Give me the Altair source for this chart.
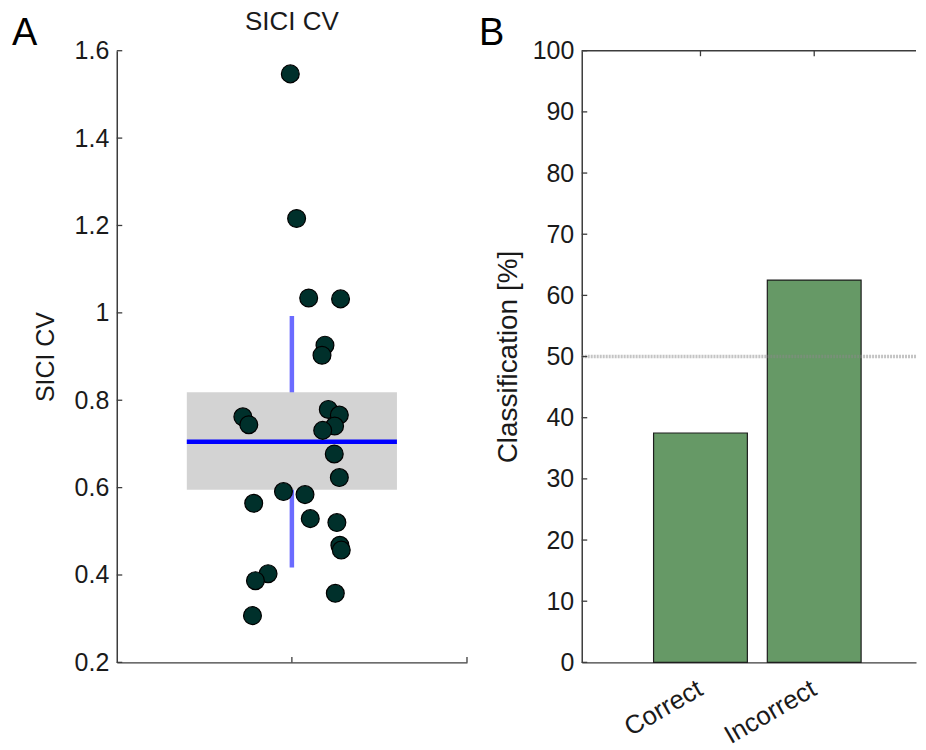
import altair as alt
import pandas as pd

# ---------------- data: panel A (SICI CV) ----------------
sici_x = [0.991, 1.027, 1.096, 1.278, 1.189, 1.172, 0.720, 0.754, 1.208, 1.271,
          1.244, 1.176, 1.242, 1.271, 0.952, 1.075, 0.782, 1.105, 1.257, 1.274,
          1.282, 0.864, 0.792, 1.248, 0.775]
sici_y = [1.547, 1.216, 1.034, 1.032, 0.926, 0.903, 0.762, 0.744, 0.779, 0.766,
          0.741, 0.731, 0.677, 0.623, 0.591, 0.584, 0.564, 0.529, 0.520, 0.468,
          0.457, 0.403, 0.387, 0.358, 0.307]
box_x = [0.4, 1.6]
box_y = [0.595, 0.818]
mean_val = 0.705
sd_range = [0.417, 0.993]
a_yticks = [0.2, 0.4, 0.6, 0.8, 1.0, 1.2, 1.4, 1.6]
a_xticks = [1, 2]

# ---------------- data: panel B (classification) ----------------
categories = ["Correct", "Incorrect"]
cat_pos = [1, 2]
class_pct = [37.5, 62.5]
chance_level = [50]
b_yticks = [0, 10, 20, 30, 40, 50, 60, 70, 80, 90, 100]
b_top = [100]

FONT = "Liberation Sans"
W_A, H = 351, 613
W_B = 335
UNIT_B = 117.5
TICK = 5.5

# ---------------- panel A ----------------
xsA = alt.Scale(domain=[0, 2], nice=False, zero=False)
ysA = alt.Scale(domain=[0.2, 1.6], nice=False, zero=False)
axA_x = alt.Axis(labels=False, ticks=False, title=None, grid=False, domain=True)
axA_y = alt.Axis(title="SICI CV", values=a_yticks, format="~g", titleFontSize=25,
                 titlePadding=16, grid=False, ticks=False)

sd_df = pd.DataFrame({"x": [1], "y": [sd_range[0]], "y2": [sd_range[1]]})
box_df = pd.DataFrame({"x": [box_x[0]], "x2": [box_x[1]], "y": [box_y[0]], "y2": [box_y[1]]})
mean_df = pd.DataFrame({"x": [box_x[0]], "x2": [box_x[1]], "y": [mean_val]})
pts_df = pd.DataFrame({"x": sici_x, "y": sici_y})
ayt_df = pd.DataFrame({"y": a_yticks})
axt_df = pd.DataFrame({"x": a_xticks})

sd_rule = alt.Chart(sd_df).mark_rule(color="#6b6bff", strokeWidth=4.5).encode(
    x=alt.X("x:Q", scale=xsA, axis=axA_x),
    y=alt.Y("y:Q", scale=ysA, axis=axA_y), y2="y2:Q")
box = alt.Chart(box_df).mark_rect(color="#d3d3d3").encode(
    x=alt.X("x:Q", scale=xsA, axis=axA_x), x2="x2:Q",
    y=alt.Y("y:Q", scale=ysA, axis=axA_y), y2="y2:Q")
mean_rule = alt.Chart(mean_df).mark_rule(color="#0000ff", strokeWidth=4.5).encode(
    x=alt.X("x:Q", scale=xsA, axis=axA_x), x2="x2:Q",
    y=alt.Y("y:Q", scale=ysA, axis=axA_y))
points = alt.Chart(pts_df).mark_circle(size=320, color="#00302b", stroke="#000000",
                                       strokeWidth=1.2, opacity=1).encode(
    x=alt.X("x:Q", scale=xsA, axis=axA_x),
    y=alt.Y("y:Q", scale=ysA, axis=axA_y))
a_yt = alt.Chart(ayt_df).mark_rule(color="#3c3c3c", strokeWidth=1.3).encode(
    y=alt.Y("y:Q", scale=ysA, axis=axA_y), x=alt.value(0), x2=alt.value(TICK))
a_xt = alt.Chart(axt_df).mark_rule(color="#3c3c3c", strokeWidth=1.3).encode(
    x=alt.X("x:Q", scale=xsA, axis=axA_x), y=alt.value(H), y2=alt.value(H - TICK))
a_title = alt.Chart(pd.DataFrame({"t": ["SICI CV"]})).mark_text(
    fontSize=26, font=FONT, color="#1a1a1a", align="center", baseline="alphabetic").encode(
    text="t:N", x=alt.value(W_A / 2), y=alt.value(-21))
a_letter = alt.Chart(pd.DataFrame({"t": ["A"]})).mark_text(
    fontSize=38, font=FONT, color="#000000", align="left", baseline="alphabetic").encode(
    text="t:N", x=alt.value(-105), y=alt.value(-6))

panelA = alt.layer(sd_rule, box, mean_rule, points, a_yt, a_xt, a_title, a_letter).properties(
    width=W_A, height=H)

# ---------------- panel B ----------------
xsB = alt.Scale(domain=[0, W_B / UNIT_B], nice=False, zero=False)
ysB = alt.Scale(domain=[0, 100], nice=False)
label_expr = " : ".join(
    f"datum.value == {p} ? '{c}'" for p, c in zip(cat_pos, categories)) + " : ''"
axB_x = alt.Axis(values=cat_pos, labelExpr=label_expr, labelAngle=330, labelAlign="right",
                 labelBaseline="top", labelPadding=13, labelOffset=-7, labelFontSize=26,
                 ticks=False, title=None, grid=False,
                 labelFlush=False, labelOverlap=False, domain=True)
axB_y = alt.Axis(title="Classification [%]", values=b_yticks, titleFontSize=28,
                 titlePadding=10, grid=False, ticks=False)

bar_df = pd.DataFrame({"pos": cat_pos, "pct": class_pct, "cat": categories})
chance_df = pd.DataFrame({"v": chance_level})
top_df = pd.DataFrame({"v": b_top})
byt_df = pd.DataFrame({"y": b_yticks})
bxt_df = pd.DataFrame({"x": cat_pos})

bars = alt.Chart(bar_df).mark_bar(size=94, color="#669966", stroke="#1e1e1e",
                                  strokeWidth=1.2).encode(
    x=alt.X("pos:Q", scale=xsB, axis=axB_x),
    y=alt.Y("pct:Q", scale=ysB, axis=axB_y))
chance = alt.Chart(chance_df).mark_rule(color="#8a8a8a", strokeDash=[2, 1], strokeWidth=3.5,
                                        opacity=0.5).encode(
    y=alt.Y("v:Q", scale=ysB, axis=axB_y))
top_line = alt.Chart(top_df).mark_rule(color="#3c3c3c", strokeWidth=1.5).encode(
    y=alt.Y("v:Q", scale=ysB, axis=axB_y))
b_yt = alt.Chart(byt_df).mark_rule(color="#3c3c3c", strokeWidth=1.3).encode(
    y=alt.Y("y:Q", scale=ysB, axis=axB_y), x=alt.value(0), x2=alt.value(TICK))
b_xt = alt.Chart(bxt_df).mark_rule(color="#3c3c3c", strokeWidth=1.3).encode(
    x=alt.X("x:Q", scale=xsB, axis=axB_x), y=alt.value(0), y2=alt.value(TICK))
b_letter = alt.Chart(pd.DataFrame({"t": ["B"]})).mark_text(
    fontSize=38, font=FONT, color="#000000", align="left", baseline="alphabetic").encode(
    text="t:N", x=alt.value(-103), y=alt.value(-6))

panelB = alt.layer(bars, chance, top_line, b_yt, b_xt, b_letter).properties(
    width=W_B, height=H)

chart = alt.hconcat(panelA, panelB, spacing=115, bounds="flush").properties(
    padding={"left": 4, "top": 0, "right": 0, "bottom": 0}
).configure(font=FONT).configure_view(stroke=None).configure_axis(
    grid=False, domainColor="#3c3c3c", domainWidth=1.5, labelColor="#1a1a1a",
    labelFontSize=25, labelFont=FONT, titleFont=FONT, titleColor="#1a1a1a",
    titleFontWeight="normal", labelPadding=8)

chart.save("out.html", embed_options={"renderer": "svg", "actions": False})
